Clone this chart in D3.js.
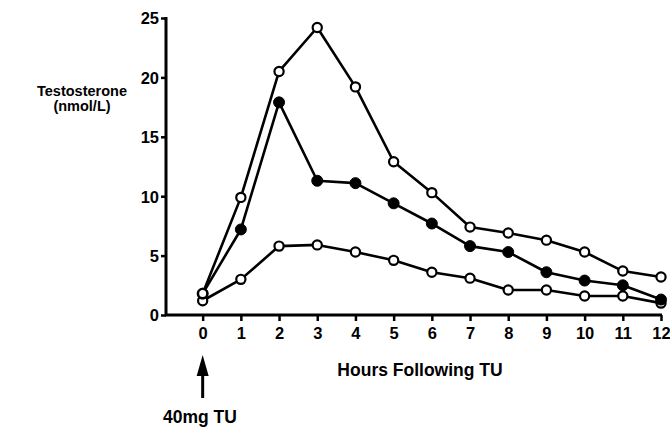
<!DOCTYPE html>
<html lang="en">
<head>
<meta charset="UTF-8" />
<title>Testosterone after TU</title>
<script src="https://cdnjs.cloudflare.com/ajax/libs/d3/7.8.5/d3.min.js"></script>
<style>
  body { margin: 0; background: #fff; }
  svg text { font-family: 'Liberation Sans', Arial, sans-serif; font-weight: bold; fill: #000; }
</style>
</head>
<body>
<svg id="chart" width="670" height="427"></svg>
<script>
  const hours = [0, 1, 2, 3, 4, 5, 6, 7, 8, 9, 10, 11, 12];
  const yTicks = [0, 5, 10, 15, 20, 25];

  // three curves
  const upper = [1.8, 9.9, 20.5, 24.2, 19.2, 12.9, 10.3, 7.4, 6.9, 6.3, 5.3, 3.7, 3.2];
  const middle = [1.8, 7.2, 17.9, 11.3, 11.1, 9.4, 7.7, 5.8, 5.3, 3.6, 2.9, 2.5, 1.3];
  const lower = [1.2, 3.0, 5.8, 5.9, 5.3, 4.6, 3.6, 3.1, 2.1, 2.1, 1.6, 1.6, 1.0];

  const series = [
    { values: lower, filled: false },
    { values: middle, filled: true },
    { values: upper, filled: false }
  ];

  const svg = d3.select("#chart");
  const plotLeft = 166, plotRight = 661, plotTop = 17, plotBottom = 315;

  const x = d3.scaleLinear().domain([-0.96, 12]).range([plotLeft, plotRight]);
  const y = d3.scaleLinear().domain([0, 25]).range([plotBottom, plotTop + 1]);

  // y axis
  const yAxis = svg.append("g")
    .attr("transform", `translate(${plotLeft},0)`)
    .call(d3.axisLeft(y).tickValues(yTicks).tickSize(5).tickPadding(2));
  yAxis.select(".domain").attr("stroke-width", 3).attr("d", `M0,${plotBottom + 1}V${plotTop}`);
  yAxis.selectAll(".tick line").attr("stroke-width", 2.5);
  yAxis.selectAll(".tick text").attr("font-size", 16.5).attr("dy", "0.36em");

  // x axis
  const xAxis = svg.append("g")
    .attr("transform", `translate(0,${plotBottom})`)
    .call(d3.axisBottom(x).tickValues(hours).tickSize(6).tickPadding(6));
  xAxis.select(".domain").attr("stroke-width", 3).attr("d", `M${plotLeft - 1},0H${plotRight + 1}`);
  xAxis.selectAll(".tick line").attr("stroke-width", 2.5);
  xAxis.selectAll(".tick text").attr("font-size", 16.5);

  const line = d3.line().x((d, i) => x(hours[i])).y(d => y(d));

  series.forEach(s => {
    svg.append("path")
      .datum(s.values)
      .attr("d", line)
      .attr("fill", "none")
      .attr("stroke", "#000")
      .attr("stroke-width", 2.6)
      .attr("stroke-linejoin", "round");
  });

  series.forEach(s => {
    svg.append("g")
      .selectAll("circle")
      .data(s.values)
      .join("circle")
      .attr("cx", (d, i) => x(hours[i]))
      .attr("cy", d => y(d))
      .attr("r", s.filled ? 5.5 : 4.6)
      .attr("fill", s.filled ? "#000" : "#fff")
      .attr("stroke", "#000")
      .attr("stroke-width", s.filled ? 1 : 2.2);
  });

  // axis titles
  svg.append("text").attr("x", 82).attr("y", 96).attr("text-anchor", "middle")
    .attr("font-size", 14.5).text("Testosterone");
  svg.append("text").attr("x", 82).attr("y", 111).attr("text-anchor", "middle")
    .attr("font-size", 14.5).text("(nmol/L)");
  svg.append("text").attr("x", 420).attr("y", 376).attr("text-anchor", "middle")
    .attr("font-size", 17.5).text("Hours Following TU");

  // dose arrow
  const ax = x(0);
  svg.append("line").attr("x1", ax).attr("x2", ax).attr("y1", 398).attr("y2", 370)
    .attr("stroke", "#000").attr("stroke-width", 3);
  svg.append("path").attr("d", `M${ax},355L${ax - 6},376L${ax + 6},376Z`).attr("fill", "#000");
  svg.append("text").attr("x", 163).attr("y", 423).attr("font-size", 17.5).text("40mg TU");
</script>
</body>
</html>
